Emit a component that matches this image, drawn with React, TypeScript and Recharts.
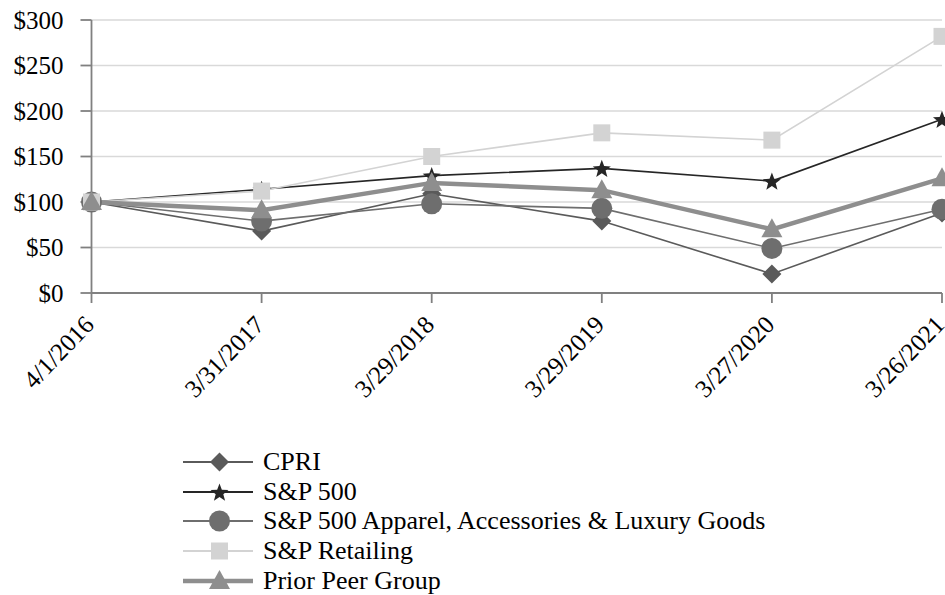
import React from 'react';
import { LineChart, Line, XAxis, YAxis, CartesianGrid, Legend } from 'recharts';

const dates = ['4/1/2016', '3/31/2017', '3/29/2018', '3/29/2019', '3/27/2020', '3/26/2021'];
const cpri = [100, 68, 109, 79, 21, 88];
const sp500 = [100, 114, 129, 137, 123, 191];
const apparel = [100, 79, 98, 93, 49, 92];
const retailing = [100, 112, 150, 176, 168, 282];
const peer = [100, 91, 121, 113, 70, 126];
const yTicks = [0, 50, 100, 150, 200, 250, 300];

const data = dates.map((d, i) => ({
  date: d,
  cpri: cpri[i],
  sp500: sp500[i],
  apparel: apparel[i],
  retailing: retailing[i],
  peer: peer[i],
}));

const FONT = '"Liberation Serif", "Times New Roman", serif';

type Shape = 'diamond' | 'star' | 'circle' | 'square' | 'triangle';

function markerEl(shape: Shape, cx: number, cy: number, fill: string, key?: any) {
  if (shape === 'diamond') {
    const h = 9.5;
    return <polygon key={key} points={`${cx},${cy - h} ${cx + h},${cy} ${cx},${cy + h} ${cx - h},${cy}`} fill={fill} />;
  }
  if (shape === 'circle') {
    return <circle key={key} cx={cx} cy={cy} r={10.5} fill={fill} />;
  }
  if (shape === 'square') {
    const h = 8.5;
    return <rect key={key} x={cx - h} y={cy - h} width={2 * h} height={2 * h} fill={fill} />;
  }
  if (shape === 'triangle') {
    return <polygon key={key} points={`${cx},${cy - 11} ${cx + 10.5},${cy + 8} ${cx - 10.5},${cy + 8}`} fill={fill} />;
  }
  const pts: string[] = [];
  const R = 9.5;
  const r = 4;
  for (let i = 0; i < 10; i++) {
    const ang = -Math.PI / 2 + (i * Math.PI) / 5;
    const rad = i % 2 === 0 ? R : r;
    pts.push(`${cx + rad * Math.cos(ang)},${cy + 1 + rad * Math.sin(ang)}`);
  }
  return <polygon key={key} points={pts.join(' ')} fill={fill} />;
}

const series: { key: string; name: string; color: string; width: number; shape: Shape }[] = [
  { key: 'cpri', name: 'CPRI', color: '#5a5a5a', width: 1.6, shape: 'diamond' },
  { key: 'sp500', name: 'S&P 500', color: '#262626', width: 1.6, shape: 'star' },
  { key: 'apparel', name: 'S&P 500 Apparel, Accessories & Luxury Goods', color: '#6e6e6e', width: 1.6, shape: 'circle' },
  { key: 'retailing', name: 'S&P Retailing', color: '#d3d3d3', width: 1.6, shape: 'square' },
  { key: 'peer', name: 'Prior Peer Group', color: '#8e8e8e', width: 4.5, shape: 'triangle' },
];

const XTick = (props: any) => {
  const { x, y, payload } = props;
  return (
    <g transform={`translate(${x + 4},${y + 23})`}>
      <text x={0} y={0} textAnchor="end" transform="rotate(-46)" fontFamily={FONT} fontSize={25} fill="#000">
        {payload.value}
      </text>
    </g>
  );
};

const LegendContent = () => (
  <div style={{ fontFamily: FONT, fontSize: 26, color: '#000' }}>
    {series.map((s) => (
      <div key={s.key} style={{ display: 'flex', alignItems: 'center', height: 29.7, lineHeight: '29.7px', whiteSpace: 'nowrap' }}>
        <svg width={70} height={30} style={{ display: 'block' }}>
          <line x1={0} y1={15} x2={70} y2={15} stroke={s.color} strokeWidth={s.width === 4.5 ? 4.5 : 1.8} />
          {markerEl(s.shape, 36.5, 15, s.color)}
        </svg>
        <span style={{ marginLeft: 10 }}>{s.name}</span>
      </div>
    ))}
  </div>
);

export default function App() {
  return (
    <div style={{ position: 'absolute', left: 0, top: 0, width: 945, height: 595, background: '#fff' }}>
      <LineChart width={945} height={595} data={data} margin={{ top: 20, right: 3, left: 0, bottom: 262 }}>
        <CartesianGrid vertical={false} stroke="#d9d9d9" strokeWidth={1.5} />
        <XAxis
          dataKey="date"
          height={40}
          tick={<XTick />}
          tickSize={10}
          tickMargin={0}
          interval={0}
          axisLine={{ stroke: '#808080', strokeWidth: 1.8 }}
          tickLine={{ stroke: '#808080', strokeWidth: 1.8 }}
        />
        <YAxis
          width={91.5}
          domain={[0, 300]}
          ticks={yTicks}
          interval={0}
          tickFormatter={(v: number) => `$${v}`}
          tickSize={11}
          tickMargin={17}
          tick={{ fontFamily: FONT, fontSize: 25, fill: '#000' }}
          axisLine={{ stroke: '#808080', strokeWidth: 1.8 }}
          tickLine={{ stroke: '#808080', strokeWidth: 1.8 }}
        />
        <Legend
          layout="vertical"
          align="center"
          verticalAlign="middle"
          wrapperStyle={{ left: 183, top: 447, width: 700 }}
          content={<LegendContent />}
        />
        {series.map((s) => (
          <Line
            key={s.key}
            type="linear"
            dataKey={s.key}
            name={s.name}
            stroke={s.color}
            strokeWidth={s.width}
            isAnimationActive={false}
            dot={(p: any) => markerEl(s.shape, p.cx, p.cy, s.color, `${s.key}-${p.index}`)}
            activeDot={false}
          />
        ))}
      </LineChart>
    </div>
  );
}
